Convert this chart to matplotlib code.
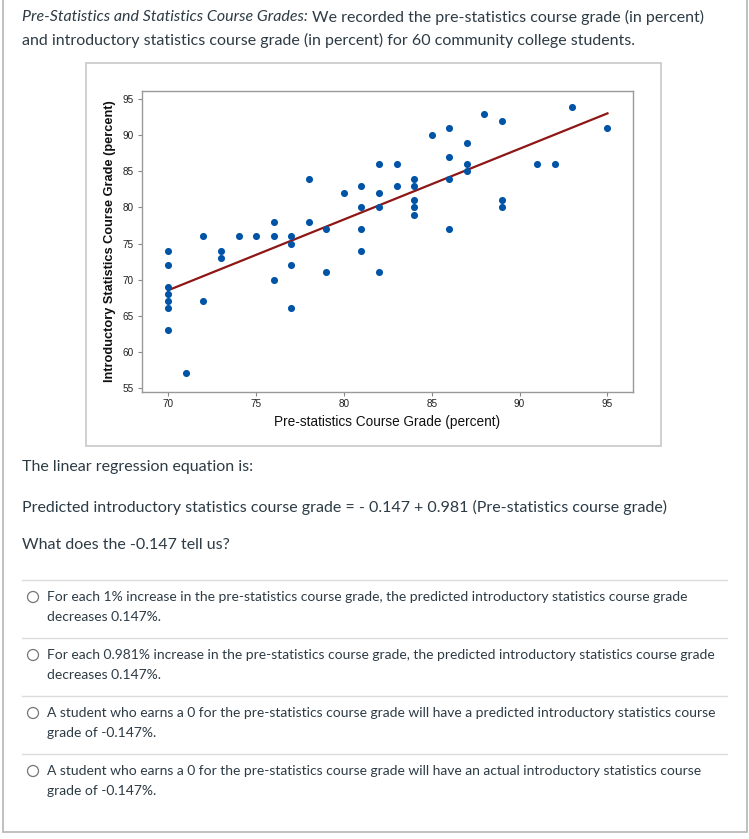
import matplotlib
matplotlib.use("Agg")
import matplotlib.pyplot as plt
from matplotlib.patches import Rectangle, Circle
import numpy as np

# ---------------- data ----------------
pre_grade = [70, 70, 70, 70, 70, 70, 70,
             71,
             72, 72,
             73, 73,
             74,
             75,
             76, 76, 76,
             77, 77, 77, 77,
             78, 78,
             79, 79,
             80,
             81, 81, 81, 81,
             82, 82, 82, 82,
             83, 83,
             84, 84, 84, 84, 84,
             85,
             86, 86, 86, 86,
             87, 87, 87,
             88,
             89, 89, 89,
             91,
             92,
             93,
             95]
intro_grade = [74, 72, 69, 68, 67, 66, 63,
               57,
               76, 67,
               74, 73,
               76,
               76,
               78, 76, 70,
               76, 75, 72, 66,
               84, 78,
               77, 71,
               82,
               83, 80, 77, 74,
               86, 82, 80, 71,
               86, 83,
               84, 83, 81, 80, 79,
               90,
               91, 87, 84, 77,
               89, 86, 85,
               93,
               92, 81, 80,
               86,
               86,
               94,
               91]
intercept = -0.147
slope = 0.981
x_ticks = [70, 75, 80, 85, 90, 95]
y_ticks = [55, 60, 65, 70, 75, 80, 85, 90, 95]

W, H = 749, 839
fig = plt.figure(figsize=(W / 100, H / 100), dpi=100)
fig.patch.set_facecolor("white")

# page layer in pixel coordinates
pg = fig.add_axes([0, 0, 1, 1])
pg.set_xlim(0, W)
pg.set_ylim(H, 0)
pg.axis("off")

renderer = fig.canvas.get_renderer()
TXT = "#2d3b45"
FONT = "Lato"


def fit_text(x, y, s, target_w, **kw):
    t = pg.text(x, y, s, va="center", ha="left", **kw)
    fs = kw.get("fontsize", 11)
    for _ in range(3):
        w = t.get_window_extent(renderer).width
        fs = fs * target_w / w
        t.set_fontsize(fs)
    return t


def text_end(t):
    bb = t.get_window_extent(renderer)
    return bb.x1


# outer page border
pg.add_patch(Rectangle((3, -5), 744, 837, fill=False, ec="#b5b5b5", lw=1.2))

# title
t1 = fit_text(22, 17, "Pre-Statistics and Statistics Course Grades:", 285,
              family=FONT, style="italic", fontsize=11.5, color=TXT)
fs_main = t1.get_fontsize()
pg.text(text_end(t1) + 4, 17, "We recorded the pre-statistics course grade (in percent)",
        family=FONT, fontsize=fs_main, color=TXT, va="center", ha="left")
pg.text(22, 40, "and introductory statistics course grade (in percent) for 60 community college students.",
        family=FONT, fontsize=fs_main, color=TXT, va="center", ha="left")

# chart image frame
pg.add_patch(Rectangle((86, 63), 575, 383, fill=False, ec="#c8c8c8", lw=1.2))

# scatter plot axes
left, right, top, bottom = 141.7, 633.3, 90.5, 391.7
ax = fig.add_axes([left / W, 1 - bottom / H, (right - left) / W, (bottom - top) / H])
ax.scatter(pre_grade, intro_grade, s=26, color="#0054a6", zorder=3, linewidths=0)
xs = np.array([min(pre_grade), max(pre_grade)])
ax.plot(xs, intercept + slope * xs, color="#8e1616", lw=1.6, zorder=2)
ax.set_xlim(68.49, 96.47)
ax.set_ylim(54.45, 96.22)
ax.set_xticks(x_ticks)
ax.set_yticks(y_ticks)
ax.tick_params(direction="out", length=3, width=0.8, color="#888888",
               labelsize=7.2, labelcolor="#222222", pad=2.5)
for lab in ax.get_xticklabels() + ax.get_yticklabels():
    lab.set_family("Liberation Sans")
for sp in ax.spines.values():
    sp.set_color("#999999")
    sp.set_linewidth(1.0)
ax.set_xlabel("Pre-statistics Course Grade (percent)", family="Liberation Sans",
              fontsize=9.8, color="#111111", labelpad=4)
ax.set_ylabel("Introductory Statistics Course Grade (percent)", family="Liberation Sans",
              fontsize=9.2, fontweight="bold", color="#111111", labelpad=5)

# question text
pg.text(22, 467, "The linear regression equation is:", family=FONT, fontsize=fs_main,
        color=TXT, va="center", ha="left")
fit_text(22, 507, "Predicted introductory statistics course grade = - 0.147 + 0.981 (Pre-statistics course grade)",
         640, family=FONT, fontsize=fs_main, color=TXT)
pg.text(22, 545, "What does the -0.147 tell us?", family=FONT, fontsize=fs_main,
        color=TXT, va="center", ha="left")

# options
options = [
    ("For each 1% increase in the pre-statistics course grade, the predicted introductory statistics course grade",
     "decreases 0.147%."),
    ("For each 0.981% increase in the pre-statistics course grade, the predicted introductory statistics course grade",
     "decreases 0.147%."),
    ("A student who earns a 0 for the pre-statistics course grade will have a predicted introductory statistics course",
     "grade of -0.147%."),
    ("A student who earns a 0 for the pre-statistics course grade will have an actual introductory statistics course",
     "grade of -0.147%."),
]
sep_y = [580, 638, 696, 754]
t_opt = fit_text(47, 597, options[0][0], 641, family=FONT, fontsize=10, color=TXT)
fs_opt = t_opt.get_fontsize()
for i, (l1, l2) in enumerate(options):
    y0 = sep_y[i]
    pg.plot([22, 727], [y0, y0], color="#dcdcdc", lw=1.0)
    if i > 0:
        pg.text(47, y0 + 17, l1, family=FONT, fontsize=fs_opt, color=TXT, va="center", ha="left")
    pg.text(47, y0 + 37, l2, family=FONT, fontsize=fs_opt, color=TXT, va="center", ha="left")
    pg.add_patch(Circle((33, y0 + 17), 5.5, fill=False, ec="#777777", lw=0.9))

fig.savefig("out.png", dpi=100, facecolor="white")
